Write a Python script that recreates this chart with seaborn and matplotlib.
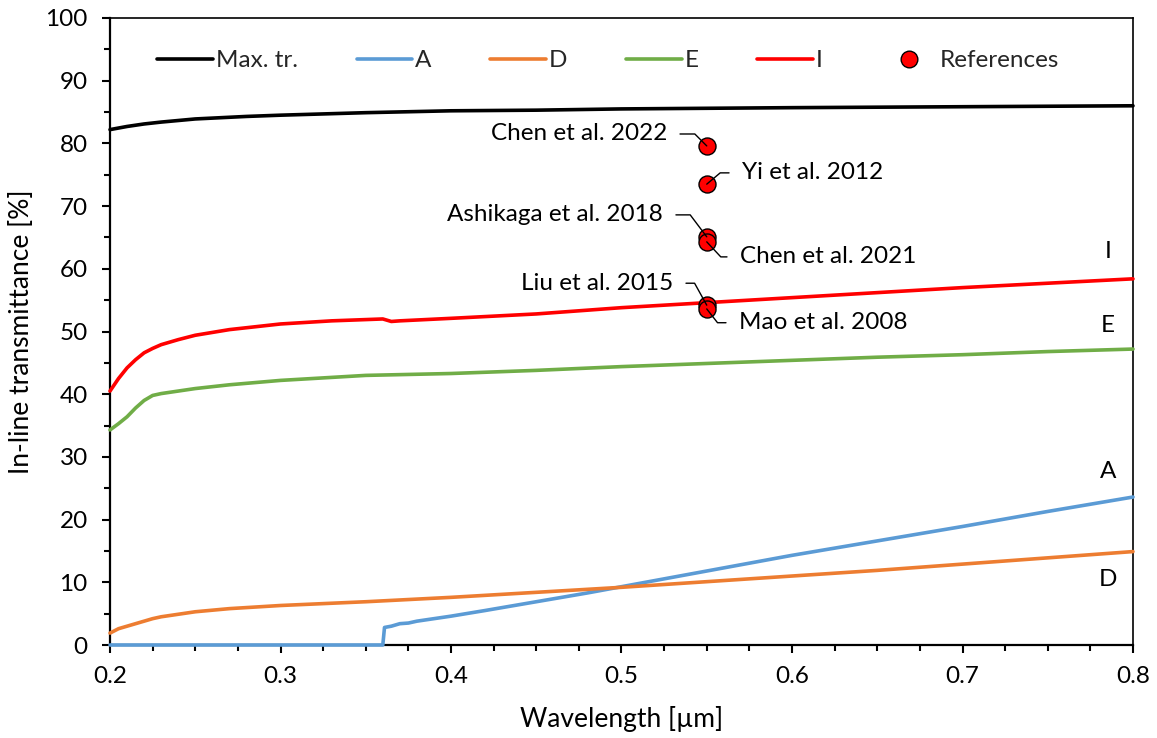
import numpy as np
import pandas as pd
import seaborn as sns
import matplotlib.pyplot as plt
from matplotlib.lines import Line2D
from matplotlib.ticker import MultipleLocator

sns.set_theme(style="white")
plt.rcParams["font.family"] = ["Lato", "DejaVu Sans"]

# Maximum theoretical transmittance
wl_max = [0.2, 0.21, 0.22, 0.23, 0.25, 0.28, 0.3, 0.35, 0.4, 0.45, 0.5, 0.55, 0.6, 0.7, 0.8]
t_max = [82.2, 82.7, 83.1, 83.4, 83.9, 84.3, 84.5, 84.9, 85.2, 85.3, 85.5, 85.6, 85.7, 85.85, 86.0]

# Sample A
wl_a = [0.2, 0.36, 0.361, 0.365, 0.37, 0.375, 0.38, 0.4, 0.42, 0.45, 0.48, 0.5, 0.55, 0.6, 0.65, 0.7, 0.75, 0.8]
t_a = [0.0, 0.0, 2.8, 3.0, 3.4, 3.5, 3.8, 4.6, 5.5, 6.9, 8.3, 9.3, 11.8, 14.3, 16.6, 18.9, 21.3, 23.6]

# Sample D
wl_d = [0.2, 0.205, 0.21, 0.215, 0.22, 0.225, 0.23, 0.25, 0.27, 0.3, 0.35, 0.4, 0.45, 0.5, 0.55, 0.6, 0.65, 0.7, 0.75, 0.8]
t_d = [1.9, 2.6, 3.0, 3.4, 3.8, 4.2, 4.5, 5.3, 5.8, 6.3, 6.9, 7.6, 8.4, 9.2, 10.1, 11.0, 11.9, 12.9, 13.9, 14.9]

# Sample E
wl_e = [0.2, 0.205, 0.21, 0.215, 0.22, 0.225, 0.23, 0.24, 0.25, 0.27, 0.3, 0.35, 0.4, 0.45, 0.5, 0.55, 0.6, 0.65, 0.7, 0.75, 0.8]
t_e = [34.3, 35.3, 36.4, 37.8, 39.0, 39.8, 40.1, 40.5, 40.9, 41.5, 42.2, 43.0, 43.3, 43.8, 44.4, 44.9, 45.4, 45.9, 46.3, 46.8, 47.2]

# Sample I
wl_i = [0.2, 0.205, 0.21, 0.215, 0.22, 0.225, 0.23, 0.24, 0.25, 0.27, 0.3, 0.33, 0.35, 0.36, 0.365, 0.37, 0.4, 0.45, 0.5, 0.55, 0.6, 0.65, 0.7, 0.75, 0.8]
t_i = [40.5, 42.5, 44.2, 45.5, 46.6, 47.3, 47.9, 48.7, 49.4, 50.3, 51.2, 51.7, 51.9, 52.0, 51.6, 51.7, 52.1, 52.8, 53.8, 54.6, 55.4, 56.2, 57.0, 57.7, 58.4]

# Literature values at 550 nm
ref_names = ["Chen et al. 2022", "Yi et al. 2012", "Ashikaga et al. 2018",
             "Chen et al. 2021", "Liu et al. 2015", "Mao et al. 2008"]
ref_wl = [0.55, 0.55, 0.55, 0.55, 0.55, 0.55]
ref_t = [79.6, 73.5, 65.1, 64.3, 54.2, 53.6]

series = [
    ("Max. tr.", wl_max, t_max, "#000000"),
    ("A", wl_a, t_a, "#5B9BD5"),
    ("D", wl_d, t_d, "#ED7D31"),
    ("E", wl_e, t_e, "#70AD47"),
    ("I", wl_i, t_i, "#FF0000"),
]

FS = 17.5
LW = 2.6

fig = plt.figure(figsize=(11.57, 7.38), dpi=100)
ax = fig.add_axes([110 / 1157, 93 / 738, 1023 / 1157, 627 / 738])

for name, x, y, c in series:
    df = pd.DataFrame({"wl": x, "t": y})
    sns.lineplot(data=df, x="wl", y="t", color=c, lw=LW, ax=ax,
                 estimator=None, sort=False, clip_on=False, zorder=3)

ref_df = pd.DataFrame({"wl": ref_wl, "t": ref_t})
sns.scatterplot(data=ref_df, x="wl", y="t", color="#FF0000", edgecolor="black",
                linewidth=1.0, s=150, ax=ax, zorder=4, legend=False)

# Leader-line labels for the literature points
label_pos = [
    (0.5267, 81.5, "right", 135),
    (0.5707, 75.3, "left", 40),
    (0.5243, 68.6, "right", 127),
    (0.5695, 61.9, "left", -47),
    (0.5302, 57.7, "right", 119),
    (0.5689, 51.4, "left", -52),
]
for name, xv, yv, (tx, ty, ha, angB) in zip(ref_names, ref_wl, ref_t, label_pos):
    relx = 1.0 if ha == "right" else 0.0
    ax.annotate(name, xy=(xv, yv), xytext=(tx, ty), textcoords="data",
                ha=ha, va="center", fontsize=FS, color="black", zorder=5,
                arrowprops=dict(arrowstyle="-", color="black", lw=1.0,
                                shrinkA=7, shrinkB=0, relpos=(relx, 0.5),
                                connectionstyle=f"angle,angleA=0,angleB={angB},rad=0"))

# Series tags at the right edge
tags = [("I", 62.7), ("E", 50.9), ("A", 27.6), ("D", 10.4)]
for txt, yv in tags:
    ax.text(0.7853, yv, txt, ha="center", va="center", fontsize=FS, color="black")

ax.set_xlim(0.2, 0.8)
ax.set_ylim(0, 100)
ax.xaxis.set_major_locator(MultipleLocator(0.1))
ax.xaxis.set_minor_locator(MultipleLocator(0.025))
ax.yaxis.set_major_locator(MultipleLocator(10))
ax.yaxis.set_minor_locator(MultipleLocator(5))
ax.xaxis.set_major_formatter(plt.FuncFormatter(lambda v, p: f"{v:.1f}"))

ax.tick_params(axis="both", which="major", direction="out", length=6, width=1.5,
               labelsize=FS, color="black", labelcolor="black",
               bottom=True, left=True, top=False, right=False)
ax.tick_params(axis="both", which="minor", direction="out", length=4.5, width=1.5,
               color="black", bottom=True, left=True, top=False, right=False)
ax.tick_params(axis="y", which="major", pad=10)
ax.tick_params(axis="x", which="major", pad=9)

for side in ["left", "bottom"]:
    ax.spines[side].set_linewidth(1.6)
    ax.spines[side].set_color("black")
for side in ["top", "right"]:
    ax.spines[side].set_linewidth(1.2)
    ax.spines[side].set_color("black")

ax.set_xlabel("Wavelength [µm]", fontsize=19, color="black", labelpad=14)
ax.set_ylabel("In-line transmittance [%]", fontsize=19, color="black", labelpad=8)

handles = [Line2D([0], [0], color=c, lw=LW) for _, _, _, c in series]
handles.append(Line2D([0], [0], marker="o", ls="none", markerfacecolor="#FF0000",
                      markeredgecolor="black", markersize=12, markeredgewidth=1.0))
labels = [s[0] for s in series] + ["References"]
ax.legend(handles, labels, ncol=6, loc="center", bbox_to_anchor=(0.487, 0.932),
          frameon=False, fontsize=FS, handlelength=2.3, handletextpad=0.12,
          columnspacing=2.4)

fig.savefig("out.png", dpi=100, facecolor="white")
